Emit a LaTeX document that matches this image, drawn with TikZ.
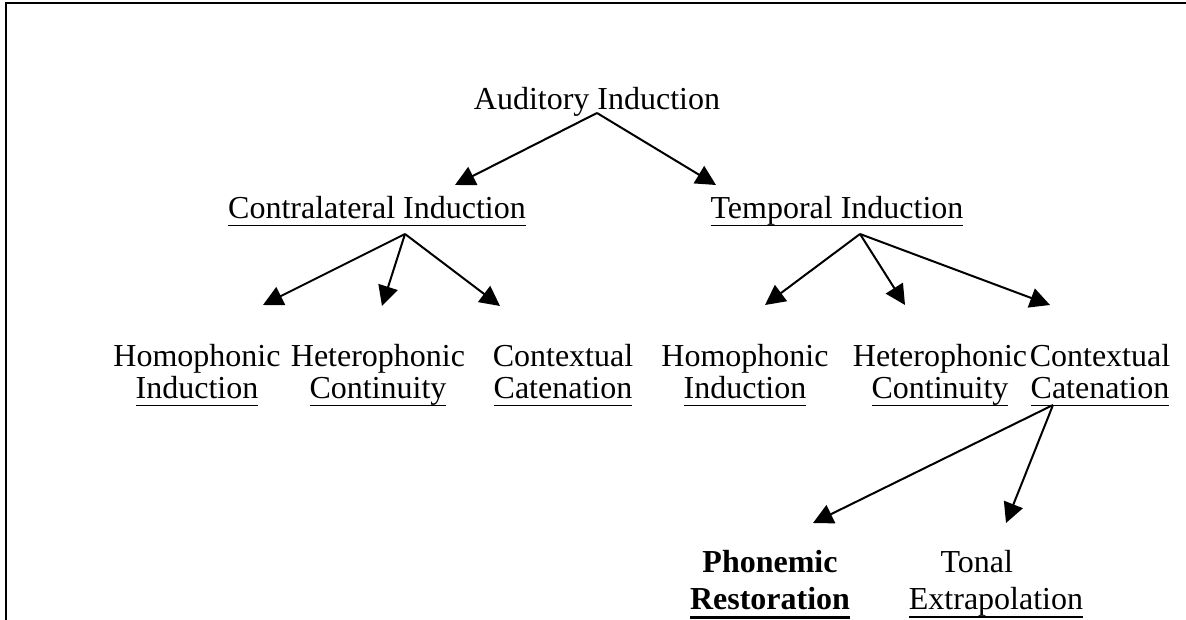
\documentclass[tikz,border=0pt]{standalone}
\usepackage{fontspec}
\setmainfont{Liberation Serif}
\usetikzlibrary{arrows.meta,calc}
\newsavebox{\ulbox}
\newcommand{\ulined}[2][0.7pt]{\sbox{\ulbox}{#2}%
  \rlap{\vrule height -2.2pt depth \dimexpr2.2pt+#1\relax width \wd\ulbox}\usebox{\ulbox}}

\begin{document}
\begin{tikzpicture}
  [x=0.375pt,y=-0.375pt,
 concept/.style={
  anchor=north,
  inner sep=0pt,
  align=center,
  font=\fontsize{12pt}{12pt}\selectfont},
 branch/.style={
  -{Triangle[length=7.5pt,width=7.5pt]},
  line width=0.75pt}]
\useasboundingbox (0,0) rectangle (1186,620);
% frame
\draw[line width=0.75pt] (6,620) -- (6,3) -- (1186,3);
% top
\node (audit) [concept] at (597,87) {Auditory Induction};
\node (contra) [concept] at (377,196) {\ulined{Contralateral Induction}};
\node (temporal) [concept] at (837,196) {\ulined{Temporal Induction}};
% second row
\node (homoL) [concept] at (197,344) {Homophonic\\\ulined{Induction}};
\node (heteroL) [concept] at (378,344) {Heterophonic\\\ulined{Continuity}};
\node (contextL) [concept] at (563,344) {Contextual\\\ulined{Catenation}};
\node (homoR) [concept] at (745,344) {Homophonic\\\ulined{Induction}};
\node (heteroR) [concept] at (940,344) {Heterophonic\\\ulined{Continuity}};
\node (contextR) [concept] at (1100,344) {Contextual\\\ulined{Catenation}};
% third row
\node (phonemic) [concept] at (770,550) {\textbf{Phonemic}\\[1.9pt]\ulined[1.1pt]{\textbf{Restoration}}};
\node (tonal) [concept] at (996,550) {Tonal\hspace*{1.2em}\\[1.9pt]\ulined{Extrapolation}};
% arrows
\draw[branch] ($(audit.north)+(0,26)$) -- ($(contra.north)+(78,-11)$);
\draw[branch] ($(audit.north)+(0,26)$) -- ($(temporal.north)+(-121,-11)$);
\draw[branch] ($(contra.north)+(28,38)$) -- ($(homoL.north)+(66,-39)$);
\draw[branch] ($(contra.north)+(28,38)$) -- ($(heteroL.north)+(4,-38)$);
\draw[branch] ($(contra.north)+(28,38)$) -- ($(contextL.north)+(-63,-38)$);
\draw[branch] ($(temporal.north)+(23,38)$) -- ($(homoR.north)+(20,-39)$);
\draw[branch] ($(temporal.north)+(23,38)$) -- ($(heteroR.north)+(-35,-39)$);
\draw[branch] ($(temporal.north)+(23,38)$) -- ($(contextR.north)+(-50,-39)$);
\draw[branch] ($(contextR.north)+(-47,61)$) -- ($(phonemic.north)+(43,-27)$);
\draw[branch] ($(contextR.north)+(-47,61)$) -- ($(tonal.north)+(10,-27)$);
\end{tikzpicture}
\end{document}
